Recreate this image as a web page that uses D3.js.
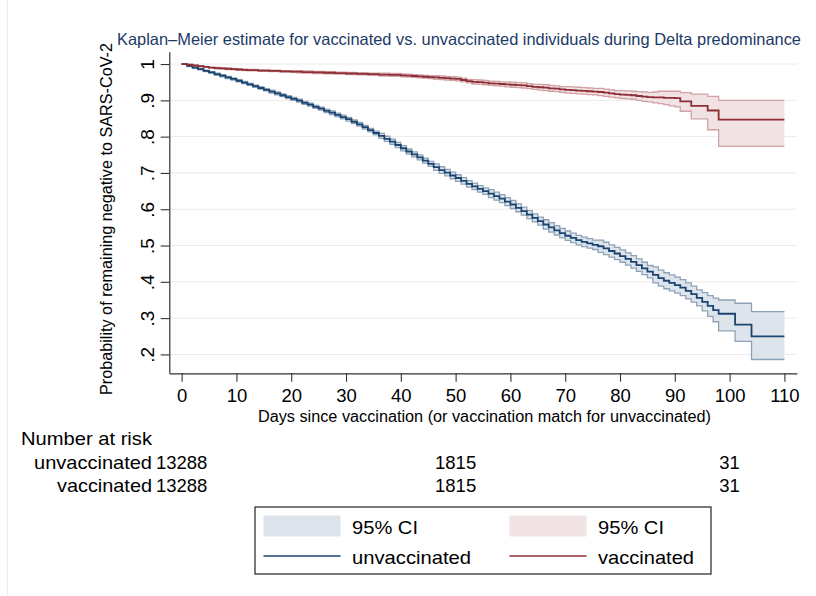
<!DOCTYPE html>
<html>
<head>
<meta charset="utf-8">
<script src="https://cdn.jsdelivr.net/npm/d3@7/dist/d3.min.js"></script>
<style>
  html, body { margin: 0; padding: 0; background: #fff; }
  svg { display: block; font-family: "Liberation Sans", Arial, Helvetica, sans-serif; }
</style>
</head>
<body>
<svg id="chart" width="816" height="596"></svg>
<script>
// ---------------- DATA ----------------
const titleText = "Kaplan\u2013Meier estimate for vaccinated vs. unvaccinated individuals during Delta predominance";
const yTitle = "Probability of remaining negative to SARS-CoV-2";
const xTitle = "Days since vaccination (or vaccination match for unvaccinated)";
const yTicks = [0.2, 0.3, 0.4, 0.5, 0.6, 0.7, 0.8, 0.9, 1];
const yTickLabels = [".2", ".3", ".4", ".5", ".6", ".7", ".8", ".9", "1"];
const xTicks = [0, 10, 20, 30, 40, 50, 60, 70, 80, 90, 100, 110];
const groups = ["unvaccinated", "vaccinated"];
const riskDays = [0, 50, 100];
const riskUnvacc = [13288, 1815, 31];
const riskVacc = [13288, 1815, 31];

// daily survival estimate, day 0..110
const unvaccEst = [1.000,.995,.990,.986,.981,.977,.972,.968,.963,.959,
  .954,.949,.944,.939,.934,.929,.924,.919,.914,.909,
  .904,.899,.893,.888,.882,.877,.871,.866,.860,.854,
  .848,.841,.834,.826,.818,.810,.802,.794,.786,.777,
  .768,.759,.751,.743,.734,.725,.716,.708,.701,.693,
  .686,.678,.670,.663,.656,.650,.643,.636,.629,.621,
  .613,.604,.595,.585,.576,.567,.558,.550,.542,.534,
  .527,.521,.515,.510,.506,.502,.498,.492,.485,.478,
  .471,.463,.455,.446,.437,.428,.419,.410,.403,.397,
  .391,.384,.375,.366,.356,.345,.334,.322,.312,.312,
  .312,.282,.282,.282,.250,.250,.250,.250,.250,.250,.250];
const unvaccLo = [1.000,.993,.988,.984,.979,.975,.969,.965,.960,.956,
  .951,.946,.941,.936,.931,.926,.920,.915,.910,.905,
  .900,.895,.889,.884,.878,.873,.866,.861,.855,.849,
  .843,.836,.829,.821,.813,.805,.795,.787,.779,.770,
  .761,.752,.744,.736,.727,.718,.707,.699,.692,.684,
  .677,.669,.661,.654,.647,.641,.632,.625,.618,.610,
  .602,.593,.584,.574,.565,.556,.545,.537,.529,.521,
  .514,.508,.502,.497,.493,.489,.481,.475,.468,.461,
  .454,.446,.438,.429,.420,.411,.397,.388,.381,.375,
  .369,.362,.353,.344,.334,.320,.305,.290,.265,.265,
  .265,.236,.236,.236,.186,.186,.186,.186,.186,.186,.186];
const unvaccHi = [1.000,.997,.992,.988,.983,.979,.975,.971,.966,.962,
  .957,.952,.947,.942,.937,.932,.928,.923,.918,.913,
  .908,.903,.897,.892,.886,.881,.876,.871,.865,.859,
  .853,.846,.839,.831,.823,.815,.809,.801,.793,.784,
  .775,.766,.758,.750,.741,.732,.725,.717,.710,.702,
  .695,.687,.679,.672,.665,.659,.654,.647,.640,.632,
  .624,.615,.606,.596,.587,.578,.571,.563,.555,.547,
  .540,.534,.528,.523,.519,.515,.515,.509,.502,.495,
  .488,.480,.472,.463,.454,.445,.441,.432,.425,.419,
  .413,.406,.397,.388,.378,.370,.362,.355,.350,.350,
  .350,.341,.341,.341,.318,.318,.318,.318,.318,.318,.318];

const vaccEst = [1.000,.998,.996,.994,.992,.990,.989,.988,.987,.986,
  .985,.984,.983,.983,.982,.982,.981,.981,.980,.980,
  .979,.979,.978,.978,.977,.977,.976,.976,.975,.975,
  .974,.974,.973,.973,.972,.972,.971,.971,.970,.970,
  .969,.968,.967,.966,.965,.964,.963,.962,.961,.960,
  .959,.956,.953,.951,.950,.949,.947,.946,.945,.944,
  .943,.942,.941,.939,.937,.936,.935,.933,.932,.930,
  .929,.928,.927,.926,.925,.924,.923,.921,.919,.917,
  .916,.915,.914,.912,.910,.909,.908,.908,.907,.907,
  .906,.897,.897,.885,.885,.885,.872,.872,.847,.847,
  .847,.847,.847,.847,.847,.847,.847,.847,.847,.847,.847];
const vaccLo = [1.000,.997,.995,.993,.991,.989,.987,.986,.985,.984,
  .983,.982,.981,.981,.980,.980,.979,.979,.978,.978,
  .977,.976,.975,.975,.974,.974,.973,.973,.972,.972,
  .971,.971,.970,.970,.969,.969,.967,.967,.966,.966,
  .965,.964,.963,.962,.961,.960,.958,.957,.956,.955,
  .954,.951,.948,.945,.944,.943,.941,.940,.939,.937,
  .936,.935,.934,.932,.930,.928,.927,.925,.924,.922,
  .920,.919,.918,.917,.916,.915,.913,.911,.909,.907,
  .905,.904,.903,.900,.897,.896,.893,.891,.888,.885,
  .882,.870,.870,.849,.849,.849,.819,.819,.773,.773,
  .773,.773,.773,.773,.773,.773,.773,.773,.773,.773,.773];
const vaccHi = [1.000,.999,.997,.995,.993,.991,.991,.990,.989,.988,
  .987,.986,.985,.985,.984,.984,.983,.983,.982,.982,
  .981,.982,.981,.981,.980,.980,.979,.979,.978,.978,
  .977,.977,.976,.976,.975,.975,.975,.975,.974,.974,
  .973,.972,.971,.970,.969,.968,.968,.967,.966,.965,
  .964,.961,.958,.957,.956,.955,.953,.952,.951,.951,
  .950,.949,.948,.946,.944,.944,.943,.941,.940,.938,
  .938,.937,.936,.935,.934,.933,.933,.931,.929,.927,
  .927,.926,.925,.924,.923,.922,.923,.925,.925,.925,
  .925,.921,.921,.917,.917,.917,.911,.911,.900,.900,
  .900,.900,.900,.900,.900,.900,.900,.900,.900,.900,.900];

// ---------------- STYLE ----------------
const font = "'Liberation Sans', Arial, Helvetica, sans-serif";
const blueLine = "#1b4470", blueFill = "#dee4eb", blueEdge = "#8da2b6";
const redLine = "#8c2f36", redFill = "#f1e2e3", redEdge = "#d2a2a6";

const svg = d3.select("#chart");

const x = d3.scaleLinear().domain([-2.25, 112.3]).range([169.3, 797]);
const y = d3.scaleLinear().domain([0.148, 1.034]).range([373.3, 51.7]);

// left faint frame line
svg.append("line").attr("x1", 7.5).attr("x2", 7.5).attr("y1", 0).attr("y2", 596)
  .attr("stroke", "#ececec").attr("stroke-width", 1);

// gridlines
svg.append("g").selectAll("line").data(yTicks).join("line")
  .attr("x1", x.range()[0]).attr("x2", x.range()[1])
  .attr("y1", d => y(d)).attr("y2", d => y(d))
  .attr("stroke", "#ebebeb").attr("stroke-width", 1);

function seriesPts(est, lo, hi) {
  return est.map((v, i) => ({ day: i, est: v, lo: lo[i], hi: hi[i] }));
}
const series = [
  { name: groups[0], pts: seriesPts(unvaccEst, unvaccLo, unvaccHi), line: blueLine, fill: blueFill, edge: blueEdge },
  { name: groups[1], pts: seriesPts(vaccEst, vaccLo, vaccHi), line: redLine, fill: redFill, edge: redEdge }
];

const area = d3.area().curve(d3.curveStepAfter)
  .x(d => x(d.day)).y0(d => y(d.lo)).y1(d => y(d.hi));
const lineFn = key => d3.line().curve(d3.curveStepAfter)
  .x(d => x(d.day)).y(d => y(d[key]));

const plot = svg.append("g");
series.forEach(s => {
  plot.append("path").attr("d", area(s.pts)).attr("fill", s.fill).attr("stroke", "none");
  plot.append("path").attr("d", lineFn("lo")(s.pts)).attr("fill", "none")
    .attr("stroke", s.edge).attr("stroke-width", 1.3);
  plot.append("path").attr("d", lineFn("hi")(s.pts)).attr("fill", "none")
    .attr("stroke", s.edge).attr("stroke-width", 1.3);
});
series.forEach(s => {
  plot.append("path").attr("d", lineFn("est")(s.pts)).attr("fill", "none")
    .attr("stroke", s.line).attr("stroke-width", 1.8);
});

// axes
const yAxis = d3.axisLeft(y).tickValues(yTicks).tickSize(8.6).tickSizeOuter(0)
  .tickFormat((d, i) => yTickLabels[i]);
const gy = svg.append("g").attr("transform", `translate(${x.range()[0]},0)`).call(yAxis);
gy.select(".domain").attr("stroke", "#333").attr("stroke-width", 1.2);
gy.selectAll(".tick line").attr("stroke", "#333").attr("stroke-width", 1.1);
gy.selectAll(".tick text")
  .attr("x", 0).attr("dy", 0).attr("text-anchor", "middle")
  .attr("transform", "translate(-15.5,0) rotate(-90)")
  .attr("font-family", font).attr("font-size", 19).attr("fill", "#000");

const xAxis = d3.axisBottom(x).tickValues(xTicks).tickSize(8.4).tickSizeOuter(0);
const gx = svg.append("g").attr("transform", `translate(0,${y.range()[0]})`).call(xAxis);
gx.select(".domain").attr("stroke", "#333").attr("stroke-width", 1.2);
gx.selectAll(".tick line").attr("stroke", "#333").attr("stroke-width", 1.1);
gx.selectAll(".tick text").attr("y", 28.6).attr("dy", 0)
  .attr("font-family", font).attr("font-size", 18.5).attr("fill", "#000");

// titles
svg.append("text").attr("x", 117).attr("y", 45).text(titleText)
  .attr("font-family", font).attr("font-size", 16.5).attr("fill", "#1c3a66")
  .attr("textLength", 684).attr("lengthAdjust", "spacingAndGlyphs");

svg.append("text").attr("transform", "translate(112,219) rotate(-90)")
  .attr("text-anchor", "middle").text(yTitle)
  .attr("font-family", font).attr("font-size", 16).attr("fill", "#000")
  .attr("textLength", 352).attr("lengthAdjust", "spacingAndGlyphs");

svg.append("text").attr("x", 484.5).attr("y", 421.5).attr("text-anchor", "middle").text(xTitle)
  .attr("font-family", font).attr("font-size", 16).attr("fill", "#000")
  .attr("textLength", 453).attr("lengthAdjust", "spacingAndGlyphs");

// number at risk table
svg.append("text").attr("x", 21).attr("y", 445).text("Number at risk")
  .attr("font-family", font).attr("font-size", 18.5).attr("fill", "#000")
  .attr("textLength", 131).attr("lengthAdjust", "spacingAndGlyphs");
const riskRows = [
  { label: groups[0], vals: riskUnvacc, yb: 469.3, w: 118 },
  { label: groups[1], vals: riskVacc, yb: 492, w: 95 }
];
riskRows.forEach(r => {
  svg.append("text").attr("x", 152).attr("y", r.yb).attr("text-anchor", "end").text(r.label)
    .attr("font-family", font).attr("font-size", 18.5).attr("fill", "#000")
    .attr("textLength", r.w).attr("lengthAdjust", "spacingAndGlyphs");
  svg.append("g").selectAll("text").data(r.vals).join("text")
    .attr("x", (d, i) => x(riskDays[i])).attr("y", r.yb).attr("text-anchor", "middle")
    .text(d => d).attr("font-family", font).attr("font-size", 18.5).attr("fill", "#000");
});

// legend
const lg = svg.append("g");
lg.append("rect").attr("x", 255).attr("y", 507).attr("width", 456).attr("height", 67)
  .attr("fill", "#fff").attr("stroke", "#222").attr("stroke-width", 1.2);
const legItems = [
  { col: 0, row: 0, kind: "fill", color: blueFill, label: "95% CI", w: 66 },
  { col: 1, row: 0, kind: "fill", color: redFill, label: "95% CI", w: 66 },
  { col: 0, row: 1, kind: "line", color: blueLine, label: groups[0], w: 119 },
  { col: 1, row: 1, kind: "line", color: redLine, label: groups[1], w: 96 }
];
const colX = [263.5, 509.5];
const rowY = [526, 556];
legItems.forEach(it => {
  const x0 = colX[it.col], yc = rowY[it.row];
  if (it.kind === "fill") {
    lg.append("rect").attr("x", x0).attr("y", yc - 10.5).attr("width", 77).attr("height", 21)
      .attr("fill", it.color);
  } else {
    lg.append("line").attr("x1", x0).attr("x2", x0 + 77).attr("y1", yc).attr("y2", yc)
      .attr("stroke", it.color).attr("stroke-width", 1.6);
  }
  lg.append("text").attr("x", x0 + 88.5).attr("y", yc + 7.5).text(it.label)
    .attr("font-family", font).attr("font-size", 18.5).attr("fill", "#000")
    .attr("textLength", it.w).attr("lengthAdjust", "spacingAndGlyphs");
});
</script>
</body>
</html>
